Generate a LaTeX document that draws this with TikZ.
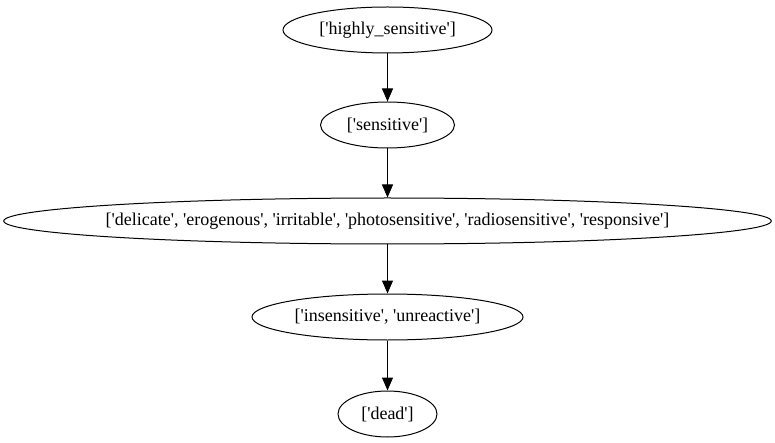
\documentclass[tikz,border=0pt]{standalone}
\usepackage{fontspec}
\newfontfamily\gvfont{Liberation Serif}
\usetikzlibrary{arrows.meta,shapes.geometric}

\begin{document}
\begin{tikzpicture}[
  x=1pt,
  y=-1pt,
  every node/.style={font=\gvfont\fontsize{18}{20}\selectfont},
  word/.style={draw, ellipse, line width=1pt, inner sep=0pt, minimum height=46pt},
  edge/.style={line width=1pt, -{Triangle[length=13pt, width=11pt]}}
]
  \useasboundingbox (0,0) rectangle (775,443);

  % ---- the chain of senses -------------------------------------------
  \node[word, minimum width=209pt] (hisens) at (387.5,30) {['highly\_sensitive']};
  \node[word, minimum width=134pt] (sens)   at (387.5,125) {['sensitive']};
  \node[word, inner xsep=-10.5pt]  (delic)  at (387.5,221)
    {['delicate', 'erogenous', 'irritable', 'photosensitive', 'radiosensitive', 'responsive']};
  \node[word, minimum width=271pt] (insens) at (387.5,317) {['insensitive', 'unreactive']};
  \node[word, minimum width=99pt]  (dead)   at (387.5,414) {['dead']};

  % ---- edges -----------------------------------------------------------
  \draw[edge] (hisens) -- (sens);
  \draw[edge] (sens) -- (delic);
  \draw[edge] (delic) -- (insens);
  \draw[edge] (insens) -- (dead);
\end{tikzpicture}
\end{document}
